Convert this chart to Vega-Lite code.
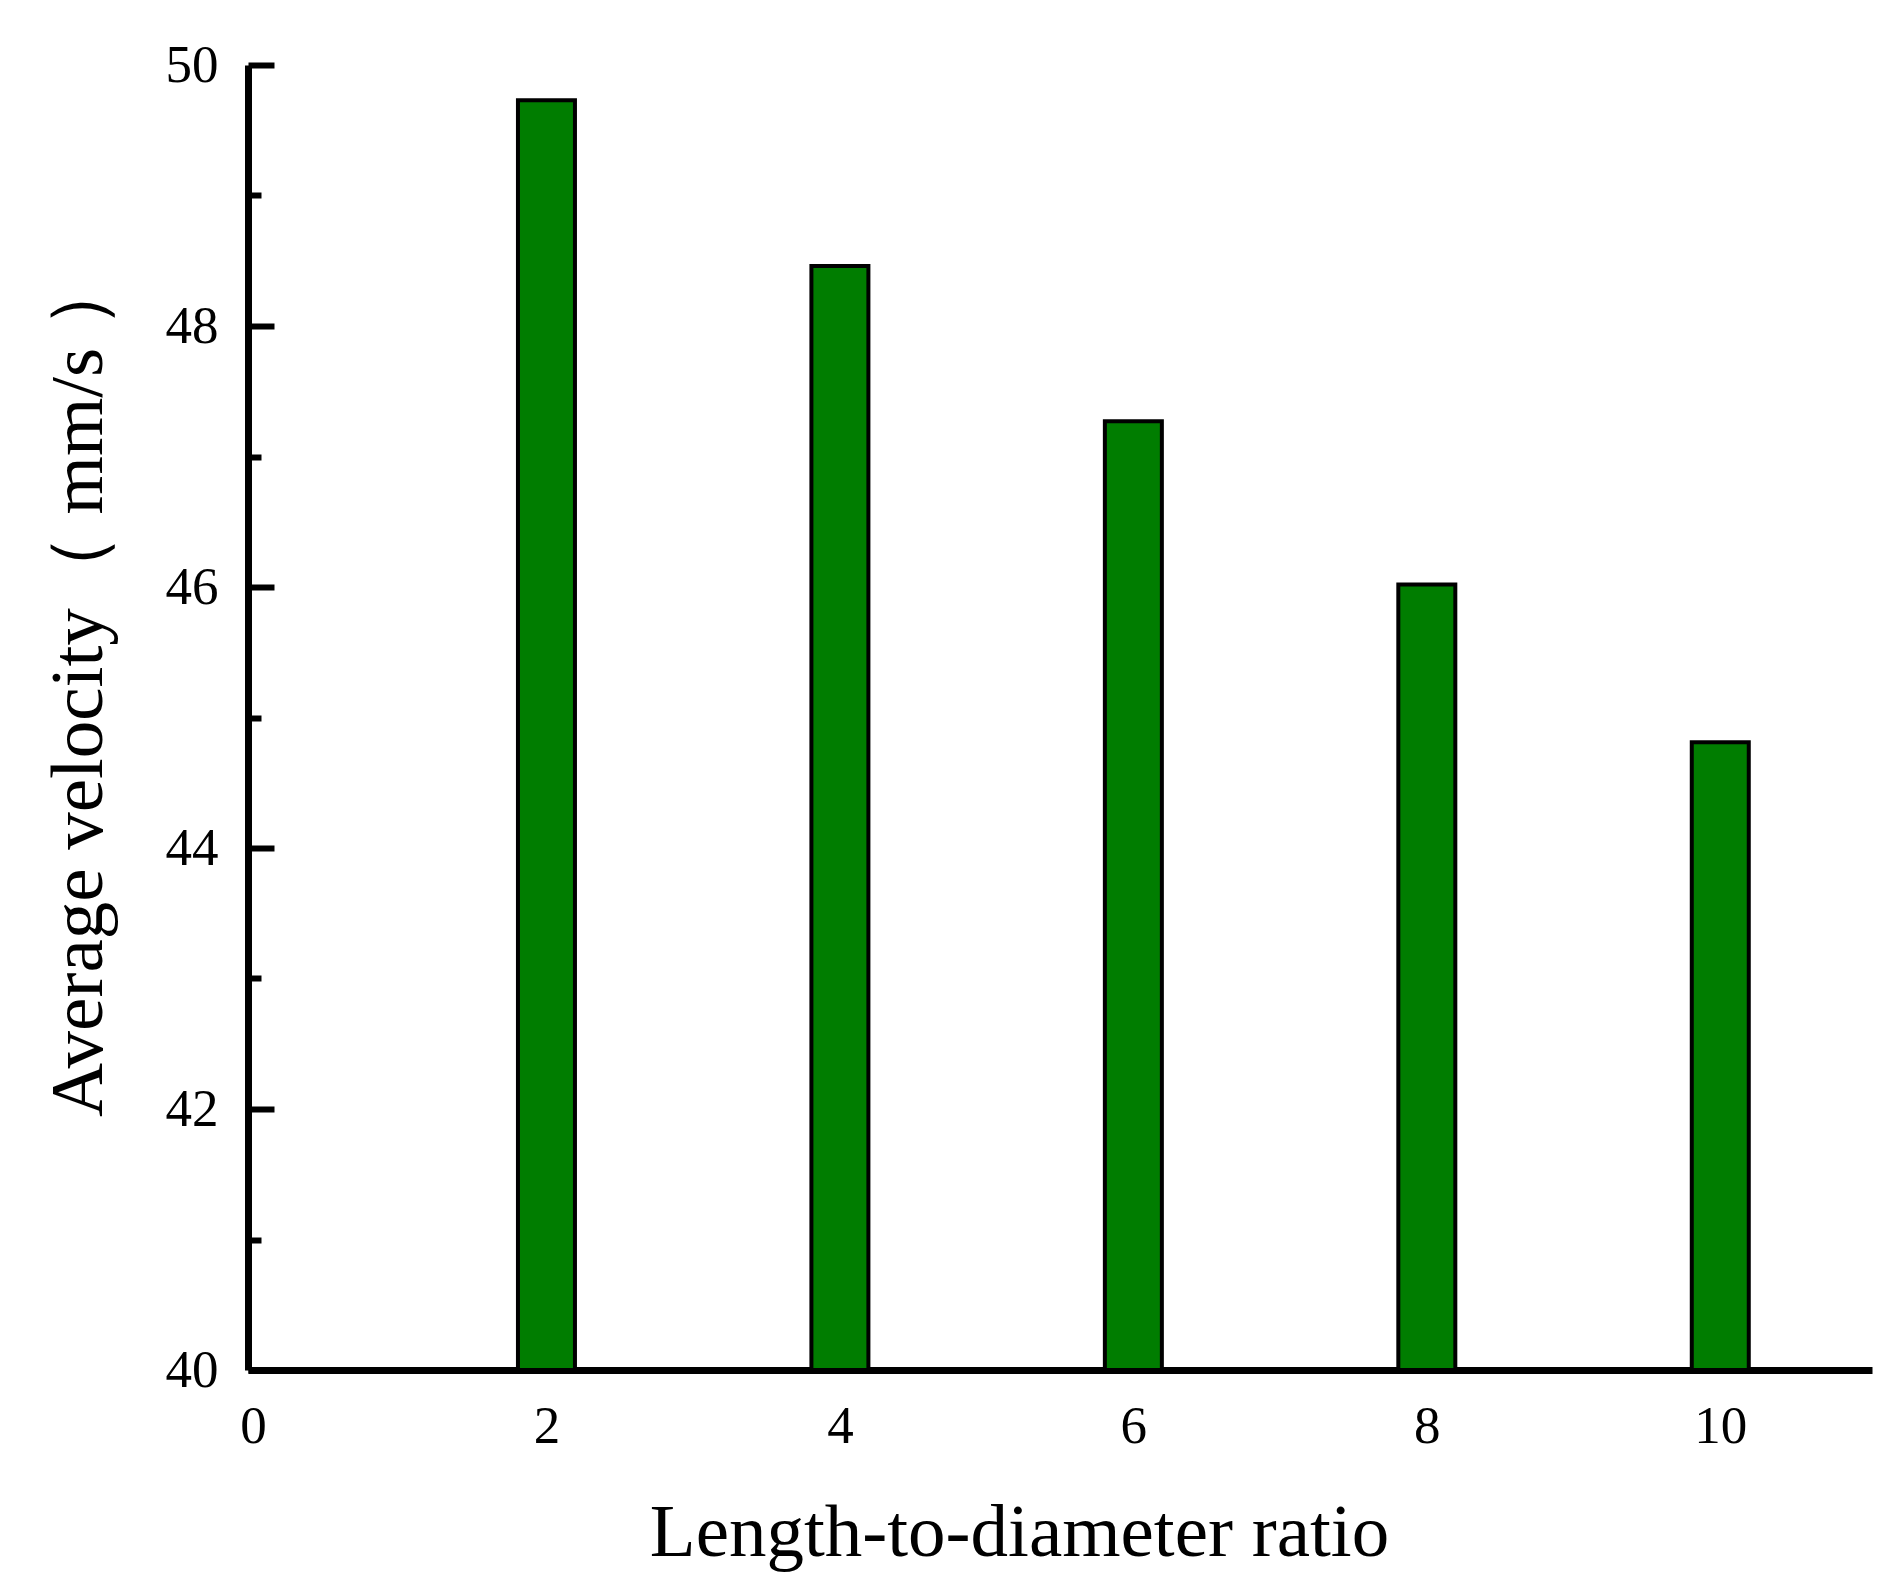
{
  "$schema": "https://vega.github.io/schema/vega-lite/v6.json",
  "autosize": {"type": "none"},
  "width": 1624,
  "height": 1305,
  "padding": {"left": 248, "top": 65, "right": 30, "bottom": 226},
  "background": "white",
  "data": {
    "values": [
      {"ratio": 2, "velocity": 49.73},
      {"ratio": 4, "velocity": 48.46},
      {"ratio": 6, "velocity": 47.27},
      {"ratio": 8, "velocity": 46.02},
      {"ratio": 10, "velocity": 44.81}
    ]
  },
  "mark": {"type": "bar", "size": 57, "fill": "#007d00", "stroke": "black", "strokeWidth": 4},
  "encoding": {
    "x": {
      "field": "ratio",
      "type": "quantitative",
      "scale": {"domain": [0, 11], "nice": false, "zero": false},
      "axis": {
        "title": "Length-to-diameter ratio",
        "values": [0, 2, 4, 6, 8, 10],
        "ticks": false,
        "grid": false,
        "labelPadding": 30,
        "labelBaseline": "top",
        "titleX": 771,
        "titleY": 185,
        "titleBaseline": "alphabetic"
      }
    },
    "y": {
      "field": "velocity",
      "type": "quantitative",
      "scale": {"domain": [40, 50], "nice": false, "zero": false},
      "axis": {
        "title": "Average velocity（ mm/s ）",
        "values": [40, 41, 42, 43, 44, 45, 46, 47, 48, 49, 50],
        "labelExpr": "datum.value % 2 === 0 ? datum.label : ''",
        "grid": false,
        "tickSize": {"condition": {"test": "datum.value % 2 === 0", "value": -26}, "value": -13},
        "labelPadding": 56,
        "titleX": -170,
        "titleY": 620,
        "titleBaseline": "middle",
        "titleAngle": 270
      }
    },
    "y2": {"datum": 40}
  },
  "config": {
    "view": {"stroke": null},
    "font": "Liberation Serif",
    "axis": {
      "domainColor": "black",
      "domainWidth": 7,
      "tickColor": "black",
      "tickWidth": 6,
      "labelFont": "Liberation Serif",
      "labelFontSize": 53,
      "labelColor": "black",
      "labelFontWeight": "normal",
      "titleFont": "Liberation Serif",
      "titleFontSize": 75,
      "titleFontWeight": "normal",
      "titleColor": "black"
    }
  }
}
